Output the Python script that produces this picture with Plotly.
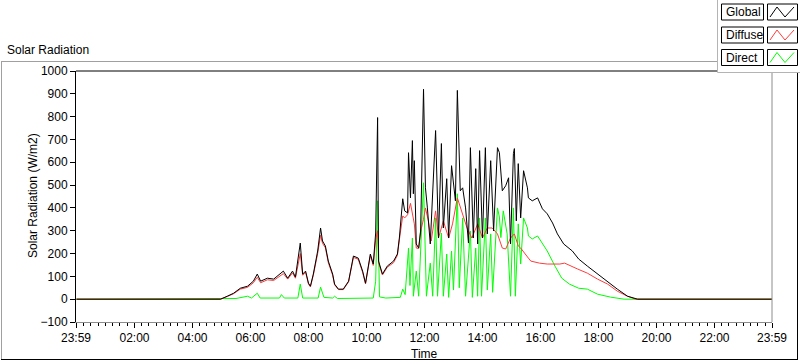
import plotly.graph_objects as go

# ---------------- data ----------------
g_time = ["00:00","04:58","05:12","05:25","05:39","05:54","06:06","06:14","06:21","06:35","06:48","07:02","07:08","07:17","07:27","07:33","07:39","07:43","07:48","07:54","08:00","08:04","08:10","08:19","08:25","08:29","08:35","08:41","08:50","08:54","09:02","09:12","09:23","09:33","09:43","09:52","09:58","10:04","10:08","10:14","10:19","10:23","10:25","10:33","10:43","10:56","11:04","11:08","11:15","11:19","11:25","11:27","11:31","11:35","11:37","11:39","11:43","11:48","11:52","11:58","12:02","12:06","12:12","12:23","12:29","12:35","12:39","12:46","12:50","12:56","13:04","13:08","13:14","13:19","13:25","13:31","13:35","13:41","13:46","13:50","13:54","14:00","14:06","14:10","14:17","14:23","14:31","14:35","14:41","14:48","14:54","14:58","15:04","15:06","15:10","15:14","15:19","15:25","15:33","15:35","15:43","15:54","16:04","16:14","16:25","16:35","16:48","17:06","17:19","17:37","17:58","18:19","18:39","19:00","19:21","23:59"]
g_val = [0,0,13,26,48,57,79,110,79,92,88,114,123,92,123,97,180,246,110,123,70,57,110,211,312,255,233,167,110,66,44,44,79,189,180,123,70,154,198,154,290,796,167,110,145,167,198,268,440,387,378,642,444,695,462,607,242,224,299,920,488,400,242,739,268,682,312,528,268,585,431,915,475,488,400,246,664,268,572,242,651,268,664,286,607,299,664,642,475,497,532,242,638,660,343,594,356,563,488,444,431,444,396,374,334,286,242,211,176,145,110,79,44,13,0,0]

d_time = ["00:00","04:58","05:12","05:25","05:39","05:54","06:06","06:14","06:21","06:35","06:48","07:02","07:08","07:17","07:27","07:33","07:39","07:43","07:48","07:54","08:00","08:04","08:10","08:19","08:25","08:29","08:35","08:41","08:50","08:54","09:02","09:12","09:23","09:33","09:43","09:52","09:58","10:04","10:08","10:14","10:19","10:23","10:25","10:33","10:43","10:56","11:04","11:08","11:15","11:19","11:25","11:31","11:35","11:39","11:43","11:48","11:52","11:58","12:02","12:08","12:14","12:23","12:29","12:39","12:50","12:58","13:08","13:19","13:28","13:38","13:50","14:00","14:10","14:20","14:31","14:41","14:48","14:58","15:06","15:14","15:19","15:35","15:40","15:58","16:14","16:40","16:50","17:17","17:37","17:58","18:19","18:39","19:00","19:17","23:59"]
d_val = [0,0,12,24,44,52,72,96,72,85,82,104,112,88,115,92,165,200,105,118,66,54,105,200,280,245,225,160,105,63,42,42,76,183,175,118,67,148,192,148,260,300,160,106,140,160,192,260,365,356,370,420,380,330,224,222,299,350,400,343,255,387,268,343,268,330,444,374,312,268,330,268,312,312,286,224,220,268,286,233,224,180,167,158,154,154,158,132,114,88,66,35,13,0,0]

r_time = ["00:00","04:58","05:30","05:54","06:02","06:14","06:20","07:00","07:04","07:10","07:38","07:43","07:48","08:20","08:25","08:32","08:50","08:54","09:00","10:14","10:19","10:23","10:27","10:40","11:10","11:15","11:20","11:27","11:30","11:35","11:37","11:43","11:48","11:58","12:04","12:12","12:17","12:23","12:27","12:35","12:39","12:46","12:50","12:56","13:00","13:08","13:12","13:19","13:25","13:35","13:39","13:46","13:50","13:54","13:58","14:06","14:10","14:17","14:21","14:31","14:35","14:38","14:43","14:51","14:58","15:04","15:08","15:14","15:19","15:25","15:33","15:35","15:43","15:54","16:04","16:14","16:30","16:44","17:00","17:19","17:37","17:58","18:25","18:53","23:59"]
r_val = [0,0,3,13,5,26,5,5,20,5,5,66,5,5,53,8,5,13,3,5,79,431,10,5,8,44,20,224,60,268,13,123,13,510,13,158,13,356,13,290,13,198,8,211,40,462,50,356,13,299,8,224,13,356,13,356,40,286,30,400,360,270,387,286,13,400,13,330,154,356,312,277,264,277,242,211,145,92,66,48,44,22,9,0,0]

series_names = ["Global", "Diffuse", "Direct"]
x_tick_text = ["23:59", "02:00", "04:00", "06:00", "08:00", "10:00", "12:00",
               "14:00", "16:00", "18:00", "20:00", "22:00", "23:59"]
y_ticks = [-100, 0, 100, 200, 300, 400, 500, 600, 700, 800, 900, 1000]

assert len(g_time) == len(g_val)
assert len(d_time) == len(d_val)
assert len(r_time) == len(r_val)


def to_hours(s):
    h, m = s.split(":")
    return int(h) + int(m) / 60.0


x_tick_vals = [-1 / 60] + [to_hours(t) for t in x_tick_text[1:-1]] + [23 + 59 / 60]

COL = {"Global": "#000000", "Diffuse": "#ff3c3c", "Direct": "#00ff00"}
FONT = "Liberation Sans, Arial, sans-serif"

fig = go.Figure()
fig.add_trace(go.Scatter(x=[to_hours(t) for t in r_time], y=r_val, mode="lines",
                         line=dict(color=COL["Direct"], width=1), name="Direct"))
fig.add_trace(go.Scatter(x=[to_hours(t) for t in d_time], y=d_val, mode="lines",
                         line=dict(color=COL["Diffuse"], width=1), name="Diffuse"))
fig.add_trace(go.Scatter(x=[to_hours(t) for t in g_time], y=g_val, mode="lines",
                         line=dict(color=COL["Global"], width=1), name="Global"))

# pixel helpers for decoration (plot area: x 76..772, y 71..322)
L, R, T, B = 76, 772, 71, 322


def px(x):
    return (x - L) / (R - L)


def py(y):
    return (B - y) / (B - T)


shapes = []
annotations = []

# plot area top and right borders
shapes.append(dict(type="line", xref="paper", yref="paper", x0=0, x1=1, y0=1, y1=1,
                   line=dict(color="#000000", width=1)))
shapes.append(dict(type="line", xref="paper", yref="paper", x0=1, x1=1, y0=0, y1=1,
                   line=dict(color="#8c8c8c", width=1)))
# outer frame
shapes.append(dict(type="line", xref="paper", yref="paper", x0=px(1), x1=px(718), y0=py(61.5), y1=py(61.5),
                   line=dict(color="#a0a0a0", width=1)))
shapes.append(dict(type="line", xref="paper", yref="paper", x0=px(1.5), x1=px(1.5), y0=py(61.5), y1=py(360),
                   line=dict(color="#a0a0a0", width=1)))
shapes.append(dict(type="line", xref="paper", yref="paper", x0=px(1), x1=px(798), y0=py(359.5), y1=py(359.5),
                   line=dict(color="#000000", width=1)))
shapes.append(dict(type="line", xref="paper", yref="paper", x0=px(797.5), x1=px(797.5), y0=py(72), y1=py(360),
                   line=dict(color="#000000", width=1)))

# legend panel
shapes.append(dict(type="rect", xref="paper", yref="paper", x0=px(717.5), x1=px(801), y0=py(72.5), y1=py(-1),
                   line=dict(color="#b4b4b4", width=1), fillcolor="#ffffff", layer="above"))
rows = [(4, "Global"), (27, "Diffuse"), (49.5, "Direct")]
for top, name in rows:
    bot = top + 16
    shapes.append(dict(type="rect", xref="paper", yref="paper", x0=px(721.5), x1=px(763.5),
                       y0=py(bot), y1=py(top), line=dict(color="#000000", width=1),
                       fillcolor="#ffffff", layer="above"))
    shapes.append(dict(type="rect", xref="paper", yref="paper", x0=px(767.5), x1=px(797.5),
                       y0=py(bot), y1=py(top), line=dict(color="#000000", width=1),
                       fillcolor="#ffffff", layer="above"))
    pts = [(770, bot - 3), (777, top + 3), (785, bot - 3), (794, top + 3)]
    path = "M " + " L ".join(f"{px(a)},{py(b)}" for a, b in pts)
    shapes.append(dict(type="path", xref="paper", yref="paper", path=path,
                       line=dict(color=COL[name], width=1), layer="above"))
    annotations.append(dict(xref="paper", yref="paper", x=px(723.5), y=py(top + 8.5),
                            xanchor="left", yanchor="middle", text=name, showarrow=False,
                            font=dict(family=FONT, size=12, color="#000000")))

# titles
annotations.append(dict(xref="paper", yref="paper", x=px(5), y=py(50), xanchor="left", yanchor="middle",
                        text="Solar Radiation", showarrow=False,
                        font=dict(family=FONT, size=12, color="#000000")))
annotations.append(dict(xref="paper", yref="paper", x=px(33), y=py(196), xanchor="center", yanchor="middle",
                        text="Solar Radiation (W/m2)", textangle=-90, showarrow=False,
                        font=dict(family=FONT, size=12, color="#000000")))
annotations.append(dict(xref="paper", yref="paper", x=0.5, y=py(354), xanchor="center", yanchor="middle",
                        text="Time", showarrow=False,
                        font=dict(family=FONT, size=12, color="#000000")))

fig.update_layout(
    width=800, height=361,
    margin=dict(l=L, r=800 - R, t=T, b=361 - B, pad=0),
    paper_bgcolor="#ffffff", plot_bgcolor="#ffffff",
    showlegend=False,
    shapes=shapes, annotations=annotations,
    font=dict(family=FONT, size=12, color="#000000"),
)
fig.update_xaxes(
    range=[-1 / 60, 23 + 59 / 60], tickmode="array", tickvals=x_tick_vals, ticktext=x_tick_text,
    ticks="outside", ticklen=5, tickcolor="#000000", tickwidth=1,
    minor=dict(dtick=0.25, tick0=0, ticks="outside", ticklen=3, tickcolor="#000000", showgrid=False),
    showgrid=False, zeroline=False, showline=True, linecolor="#8c8c8c", linewidth=1,
    tickfont=dict(family=FONT, size=12, color="#000000"),
)
fig.update_yaxes(
    range=[-100, 1000], tickmode="array", tickvals=y_ticks,
    ticks="outside", ticklen=5, tickcolor="#000000", tickwidth=1,
    showgrid=False, zeroline=False, showline=True, linecolor="#000000", linewidth=1,
    tickfont=dict(family=FONT, size=12, color="#000000"),
)

fig.write_html("out.html", config={"displayModeBar": False},
               post_script="document.body.style.margin='0';document.body.style.overflow='hidden';")
